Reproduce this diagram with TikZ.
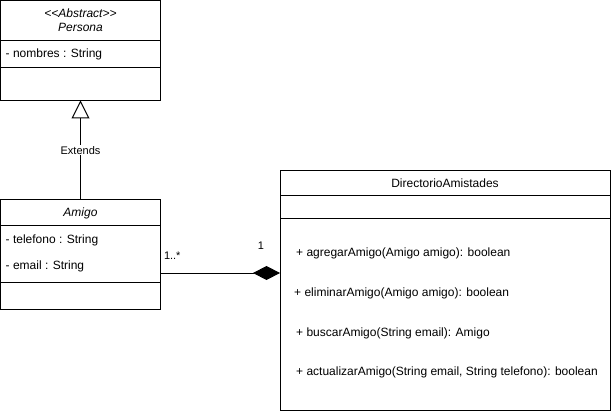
\documentclass[tikz,border=0pt]{standalone}
\usepackage{fontspec}
\setmainfont{Liberation Sans}
\usetikzlibrary{arrows.meta,positioning}

\begin{document}
\begin{tikzpicture}[
      x=1pt,y=-1pt,
      part/.style={
         draw=black,
         line width=1pt,
         rectangle,
         inner sep=0pt,
         outer sep=0pt,
         minimum width=160pt,
         font=\fontsize{12}{14}\selectfont},
      member/.style={inner sep=0pt, font=\fontsize{12}{14}\selectfont},
      extends/.style={line width=1pt, -{Triangle[fill=white,length=18pt,width=18pt]}},
      compose/.style={line width=1pt, -{Diamond[length=27pt,width=14pt]}},
      edgelabel/.style={font=\fontsize{11}{13}\selectfont, inner sep=0pt}
      ]
      \useasboundingbox (0,0) rectangle (612,411);

      % Persona
      \node[part,minimum height=40pt,anchor=north west,align=center] (ptitle) at (0.5,0.5)
         {\textit{{<}{<}Abstract{>}{>}}\\\textit{Persona}};
      \node[part,minimum height=27pt,below=0pt of ptitle] (pattr) {};
      \node[part,minimum height=33pt,below=0pt of pattr] (pmeth) {};
      \node[member,right=5pt of pattr.west] (nombres) {- nombres : String};

      % Amigo
      \node[part,minimum height=26pt,anchor=north west] (atitle) at (0.5,200) {\textit{Amigo}};
      \node[part,minimum height=56pt,below=0pt of atitle] (aattr) {};
      \node[part,minimum height=27pt,below=0pt of aattr] (ameth) {};
      \node[member,right=5pt of aattr.west,yshift=14pt] (telefono) {- telefono : String};
      \node[member,right=5pt of aattr.west,yshift=-12pt] (email) {- email : String};

      % DirectorioAmistades
      \node[part,minimum width=330pt,minimum height=25pt,anchor=north west] (dtitle) at (280,171) {DirectorioAmistades};
      \node[part,minimum width=330pt,minimum height=23pt,below=0pt of dtitle] (dattr) {};
      \node[part,minimum width=330pt,minimum height=191pt,below=0pt of dattr] (dmeth) {};
      \node[member,anchor=west] (agregar) at ([xshift=16pt]dmeth.west |- 0,253) {+ agregarAmigo(Amigo amigo): boolean};
      \node[member,anchor=west] (eliminar) at ([xshift=14pt]dmeth.west |- 0,293) {+ eliminarAmigo(Amigo amigo): boolean};
      \node[member,anchor=west] (buscar) at ([xshift=16pt]dmeth.west |- 0,333) {+ buscarAmigo(String email): Amigo};
      \node[member,anchor=west] (actualizar) at ([xshift=16pt]dmeth.west |- 0,372) {+ actualizarAmigo(String email, String telefono): boolean};

      % relations
      \draw[extends] (atitle.north) -- node[edgelabel,fill=white,inner sep=1pt] {Extends} (pmeth.south);
      \draw[compose] ([yshift=-19pt]aattr.east) --
         node[edgelabel,pos=0,anchor=base west,xshift=3pt,yshift=14pt] {1..*}
         node[edgelabel,pos=1,anchor=base,xshift=-19pt,yshift=23pt] {1}
         ([yshift=-19pt]aattr.east -| dmeth.west);

    \end{tikzpicture}
\end{document}
